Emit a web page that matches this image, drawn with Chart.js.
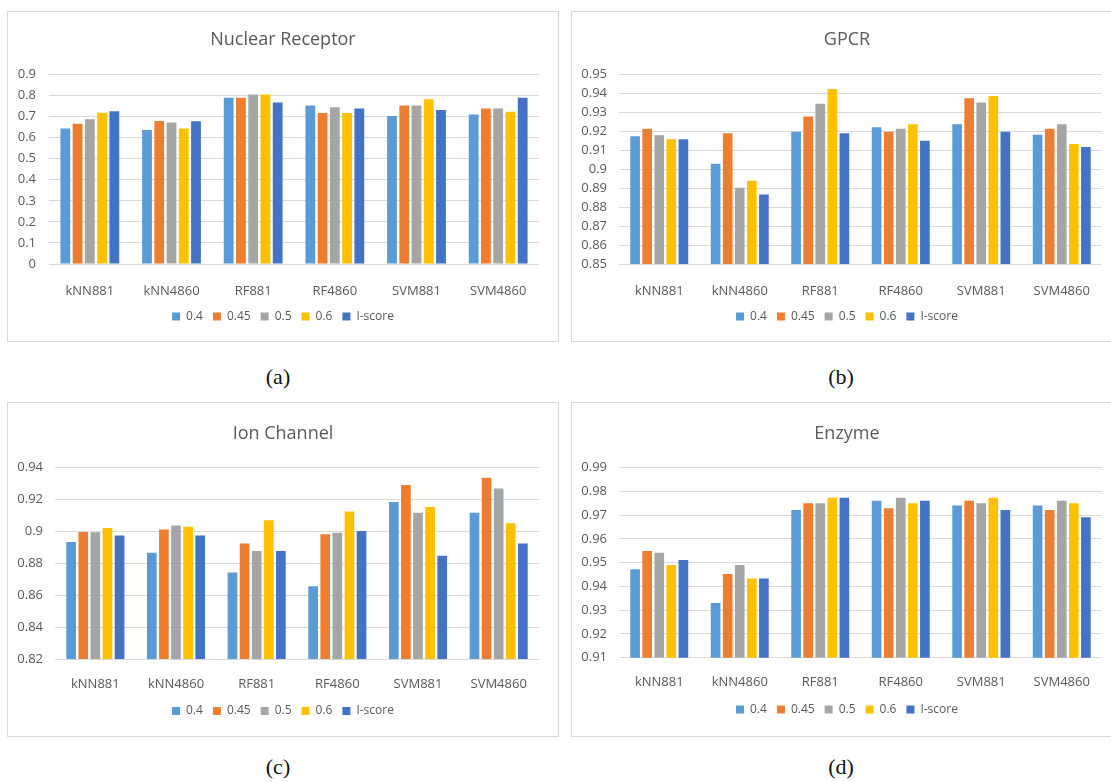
<!DOCTYPE html>
<html>
<head>
<meta charset="utf-8">
<script src="https://cdn.jsdelivr.net/npm/chart.js@4.4.1/dist/chart.umd.min.js"></script>
<style>
  html, body { margin: 0; padding: 0; background: #fff; }
  body { width: 1111px; height: 782px; overflow: hidden; position: relative; }
  .panel { position: absolute; border: 1px solid #d9d9d9; box-sizing: border-box; background: #fff; }
  .panel canvas { position: absolute; left: 0; top: 0; }
  .cap { position: absolute; font-family: "Liberation Serif", "DejaVu Serif", serif; font-size: 22px; color: #111;
         transform: translate(-50%, -50%); white-space: nowrap; }
</style>
</head>
<body>
<div class="panel" style="left:7px;top:11px;width:552px;height:331px"><canvas id="chartNR" width="550" height="329"></canvas></div>
<div class="panel" style="left:571px;top:11px;width:552px;height:331px"><canvas id="chartGPCR" width="550" height="329"></canvas></div>
<div class="panel" style="left:7px;top:402px;width:552px;height:335px"><canvas id="chartIC" width="550" height="333"></canvas></div>
<div class="panel" style="left:571px;top:402px;width:552px;height:335px"><canvas id="chartEN" width="550" height="333"></canvas></div>
<div class="cap" style="left:278px;top:377px">(a)</div>
<div class="cap" style="left:841px;top:377px">(b)</div>
<div class="cap" style="left:278px;top:767px">(c)</div>
<div class="cap" style="left:841px;top:767px">(d)</div>
<script>
// Methods compared and threshold settings
const categories = ['kNN881', 'kNN4860', 'RF881', 'RF4860', 'SVM881', 'SVM4860'];
const seriesNames = ['0.4', '0.45', '0.5', '0.6', 'I-score'];
const seriesColors = ['#5B9BD5', '#ED7D31', '#A5A5A5', '#FFC000', '#4472C4'];

// Nuclear Receptor
const nr04  = [0.644, 0.636, 0.790, 0.753, 0.703, 0.710];
const nr045 = [0.666, 0.679, 0.790, 0.717, 0.753, 0.739];
const nr05  = [0.688, 0.672, 0.805, 0.745, 0.753, 0.739];
const nr06  = [0.718, 0.644, 0.805, 0.717, 0.783, 0.723];
const nrI   = [0.725, 0.678, 0.767, 0.739, 0.731, 0.790];
const nrTickValues = [0, 0.1, 0.2, 0.3, 0.4, 0.5, 0.6, 0.7, 0.8, 0.9];
const nrTickLabels = ['0', '0.1', '0.2', '0.3', '0.4', '0.5', '0.6', '0.7', '0.8', '0.9'];

// GPCR
const gp04  = [0.9174, 0.9029, 0.9198, 0.9221, 0.9237, 0.9182];
const gp045 = [0.9214, 0.9190, 0.9279, 0.9198, 0.9375, 0.9214];
const gp05  = [0.9180, 0.8902, 0.9345, 0.9214, 0.9352, 0.9237];
const gp06  = [0.9158, 0.8939, 0.9424, 0.9237, 0.9386, 0.9133];
const gpI   = [0.9158, 0.8867, 0.9190, 0.9150, 0.9198, 0.9117];
const gpTickValues = [0.85, 0.86, 0.87, 0.88, 0.89, 0.90, 0.91, 0.92, 0.93, 0.94, 0.95];
const gpTickLabels = ['0.85', '0.86', '0.87', '0.88', '0.89', '0.9', '0.91', '0.92', '0.93', '0.94', '0.95'];

// Ion Channel
const ic04  = [0.8934, 0.8867, 0.8742, 0.8656, 0.9185, 0.9118];
const ic045 = [0.8997, 0.9012, 0.8924, 0.8982, 0.9291, 0.9337];
const ic05  = [0.8995, 0.9038, 0.8878, 0.8992, 0.9118, 0.9270];
const ic06  = [0.9022, 0.9030, 0.9070, 0.9126, 0.9153, 0.9051];
const icI   = [0.8974, 0.8974, 0.8878, 0.9003, 0.8848, 0.8924];
const icTickValues = [0.82, 0.84, 0.86, 0.88, 0.90, 0.92, 0.94];
const icTickLabels = ['0.82', '0.84', '0.86', '0.88', '0.9', '0.92', '0.94'];

// Enzyme
const en04  = [0.9472, 0.9330, 0.9722, 0.9761, 0.9741, 0.9741];
const en045 = [0.9549, 0.9452, 0.9750, 0.9729, 0.9761, 0.9722];
const en05  = [0.9542, 0.9490, 0.9750, 0.9774, 0.9750, 0.9761];
const en06  = [0.9490, 0.9433, 0.9774, 0.9750, 0.9774, 0.9750];
const enI   = [0.9511, 0.9433, 0.9774, 0.9761, 0.9722, 0.9691];
const enTickValues = [0.91, 0.92, 0.93, 0.94, 0.95, 0.96, 0.97, 0.98, 0.99];
const enTickLabels = ['0.91', '0.92', '0.93', '0.94', '0.95', '0.96', '0.97', '0.98', '0.99'];

const TEXT = '#595959';
const GRID = '#d9d9d9';
const FONT = '"Open Sans", "Noto Sans", sans-serif';
const TITLE_SIZE = 18, TICK_SIZE = 13, LEGEND_SIZE = 12;
const LEGEND_PAD = 10, LEGEND_BOX = 8;

// Each panel: plot edges and text rows given in canvas pixels
function buildChart(id, title, series, tickValues, tickLabels, place) {
  const canvas = document.getElementById(id);
  const W = canvas.width, H = canvas.height;
  const titleLH = TITLE_SIZE * 1.2;
  const tickLH = TICK_SIZE * 1.2;
  const legendItemH = Math.max(LEGEND_SIZE, LEGEND_BOX);
  const legendH = legendItemH + LEGEND_PAD + 10;
  const legendTop = place.legendY - LEGEND_PAD - legendItemH / 2;

  return new Chart(canvas, {
    type: 'bar',
    data: {
      labels: categories,
      datasets: series.map((vals, i) => ({
        label: seriesNames[i],
        data: vals,
        backgroundColor: seriesColors[i],
        borderWidth: 0,
        categoryPercentage: 0.75,
        barPercentage: 0.8
      }))
    },
    options: {
      responsive: false,
      animation: false,
      devicePixelRatio: 1,
      layout: { padding: { left: 0, top: 0, right: 0, bottom: H - legendTop - legendH } },
      plugins: {
        title: {
          display: true,
          text: title,
          color: TEXT,
          font: { family: FONT, size: TITLE_SIZE, weight: 'normal', lineHeight: 1.2 },
          padding: { top: place.titleY - titleLH / 2, bottom: place.plotTop - place.titleY - titleLH / 2 }
        },
        legend: {
          position: 'bottom',
          labels: {
            color: TEXT,
            boxWidth: LEGEND_BOX,
            boxHeight: LEGEND_BOX,
            padding: LEGEND_PAD,
            font: { family: FONT, size: LEGEND_SIZE }
          }
        },
        tooltip: { enabled: false }
      },
      scales: {
        x: {
          grid: { display: false },
          border: { display: false },
          ticks: {
            color: TEXT,
            padding: place.labelY - place.plotBottom - tickLH / 2,
            font: { family: FONT, size: TICK_SIZE, lineHeight: 1.2 },
            maxRotation: 0, autoSkip: false
          },
          afterFit: (s) => { s.height = legendTop - place.plotBottom; }
        },
        y: {
          min: tickValues[0],
          max: tickValues[tickValues.length - 1],
          grid: { color: GRID, lineWidth: 1, drawTicks: false },
          border: { display: false },
          afterBuildTicks: (s) => { s.ticks = tickValues.map(v => ({ value: v })); },
          ticks: {
            color: TEXT,
            padding: place.labelGap,
            font: { family: FONT, size: TICK_SIZE },
            callback: (v, i) => tickLabels[i]
          },
          afterFit: (s) => { s.width = place.plotLeft; }
        },
        // empty right margin, so the title and legend stay centred on the whole panel
        yMargin: {
          position: 'right',
          grid: { display: false },
          border: { display: false },
          ticks: { display: false },
          afterFit: (s) => { s.width = W - place.plotRight; }
        }
      }
    }
  });
}

buildChart('chartNR', 'Nuclear Receptor', [nr04, nr045, nr05, nr06, nrI], nrTickValues, nrTickLabels,
  { plotLeft: 41, plotRight: 531, titleY: 27.5, plotTop: 62.5, plotBottom: 252, labelY: 271.3, legendY: 304.5, labelGap: 13 });
buildChart('chartGPCR', 'GPCR', [gp04, gp045, gp05, gp06, gpI], gpTickValues, gpTickLabels,
  { plotLeft: 47, plotRight: 530, titleY: 27.5, plotTop: 62.5, plotBottom: 252, labelY: 271.3, legendY: 304.5, labelGap: 12 });
buildChart('chartIC', 'Ion Channel', [ic04, ic045, ic05, ic06, icI], icTickValues, icTickLabels,
  { plotLeft: 47, plotRight: 531, titleY: 31, plotTop: 64.7, plotBottom: 256, labelY: 273, legendY: 308, labelGap: 12 });
buildChart('chartEN', 'Enzyme', [en04, en045, en05, en06, enI], enTickValues, enTickLabels,
  { plotLeft: 47, plotRight: 530, titleY: 30.5, plotTop: 64.7, plotBottom: 254.7, labelY: 271.7, legendY: 306.5, labelGap: 12 });
</script>
</body>
</html>
